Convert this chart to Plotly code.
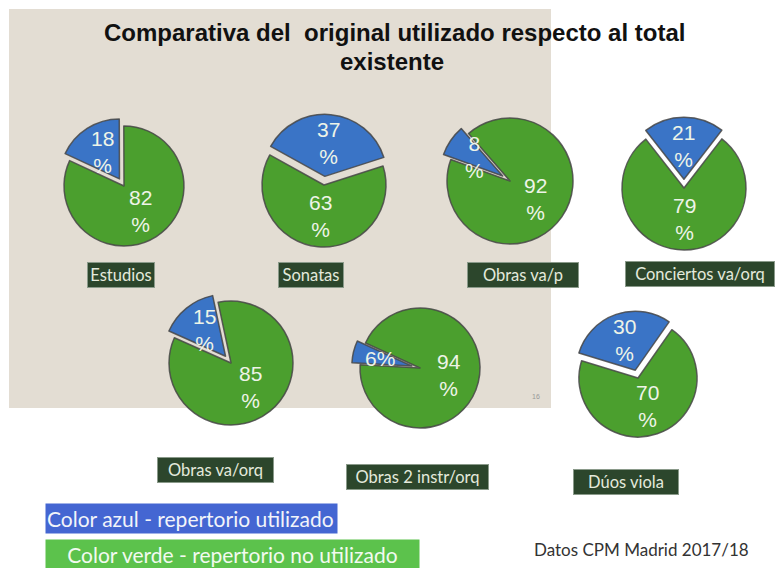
import math
import plotly.graph_objects as go

# Repertorio utilizado / no utilizado por tipo de obra (Datos CPM Madrid 2017/18)
categorias = ["Estudios", "Sonatas", "Obras va/p", "Conciertos va/orq",
              "Obras va/orq", "Obras 2 instr/orq", "Dúos viola"]
utilizado = [18, 37, 8, 21, 15, 6, 30]
no_utilizado = [82, 63, 92, 79, 85, 94, 70]

# Layout of each pie: centre (px), radius (px), start angle of the blue slice (deg, clockwise from 12 o'clock)
W, H = 775, 568
centros = [(124, 186), (324, 185), (510, 181), (684, 188),
           (231, 363), (420, 368), (638, 378)]
radios = [60, 62, 63, 62, 62, 60, 59]
rotaciones = [295, 299, 290, 322, 294, 273, 287]
etiquetas = [(121, 275), (311, 275), (523, 275), (700, 274),
             (215, 470), (418, 477), (626, 482)]
anchos = [64, 62, 108, 146, 113, 139, 102]
PULL = 0.14

AZUL = "#3a74c6"
VERDE = "#4b9f2e"
TEXTO = "#eef4e8"

fig = go.Figure()
annotations = []


def nota(x, y, text, **kw):
    d = dict(x=x / W, y=1 - y / H, xref="paper", yref="paper", text=text,
             showarrow=False, xanchor="center", yanchor="middle")
    d.update(kw)
    annotations.append(d)


for i, cat in enumerate(categorias):
    cx, cy = centros[i]
    r = radios[i]
    h = r * (1 + PULL)
    fig.add_trace(go.Pie(
        values=[utilizado[i], no_utilizado[i]],
        labels=["Repertorio utilizado", "Repertorio no utilizado"],
        sort=False,
        direction="counterclockwise",
        rotation=rotaciones[i],
        pull=[PULL, 0],
        marker=dict(colors=[AZUL, VERDE],
                    line=dict(color="rgba(70,70,70,0.85)", width=1.5)),
        textinfo="none",
        hoverinfo="label+percent",
        showlegend=False,
        domain=dict(x=[(cx - h) / W, (cx + h) / W],
                    y=[1 - (cy + h) / H, 1 - (cy - h) / H]),
    ))

    # value labels at the middle angle of each slice
    total = utilizado[i] + no_utilizado[i]
    a_blue = rotaciones[i] + 360 * utilizado[i] / total / 2
    a_green = a_blue + 180
    for val, ang, k in ((utilizado[i], a_blue, 0.68), (no_utilizado[i], a_green, 0.5)):
        t = math.radians(ang)
        px = cx + k * r * math.sin(t)
        py = cy - k * r * math.cos(t)
        txt = f"{val}%" if cat == "Obras 2 instr/orq" and val == utilizado[i] else f"{val}<br>%"
        nota(px, py, txt,
             font=dict(family="Liberation Sans, Arial", size=21, color=TEXTO))

    # category name box
    lx, ly = etiquetas[i]
    nota(lx, ly, cat, width=anchos[i], height=22,
         bgcolor="#2c462c", bordercolor="#8a9a8a", borderwidth=1, borderpad=1,
         font=dict(family="Lato, Noto Sans", size=16.5, color="#e4eadc"))

# title
nota(394, 33, "<b>Comparativa del  original utilizado respecto al total</b>",
     font=dict(family="Liberation Sans, Arial", size=24, color="#111111"))
nota(392, 62, "<b>existente</b>",
     font=dict(family="Liberation Sans, Arial", size=24, color="#111111"))

# colour key
nota(45, 518, "Color azul - repertorio utilizado", xanchor="left", align="left",
     width=289, height=27, bgcolor="#4466d2", borderpad=1,
     font=dict(family="Lato, Noto Sans", size=21, color="#f2f4fa"))
nota(45, 554, "Color verde - repertorio no utilizado", xanchor="left", align="center",
     width=371, height=27, bgcolor="#5cc24c", borderpad=1,
     font=dict(family="Lato, Noto Sans", size=21, color="#f2faf0"))
nota(641, 549, "Datos CPM Madrid 2017/18",
     font=dict(family="Lato, Noto Sans", size=17, color="#333333"))
nota(536, 396, "16", font=dict(family="Liberation Sans, Arial", size=7, color="#999999"))

fig.update_layout(
    width=W, height=H,
    margin=dict(l=0, r=0, t=0, b=0),
    paper_bgcolor="white",
    plot_bgcolor="white",
    annotations=annotations,
    shapes=[dict(type="rect", xref="paper", yref="paper", layer="below",
                 x0=9 / W, x1=551 / W, y0=1 - 408 / H, y1=1 - 9 / H,
                 fillcolor="#e3ddd3", line=dict(width=0))],
)

fig.write_html("out.html")
